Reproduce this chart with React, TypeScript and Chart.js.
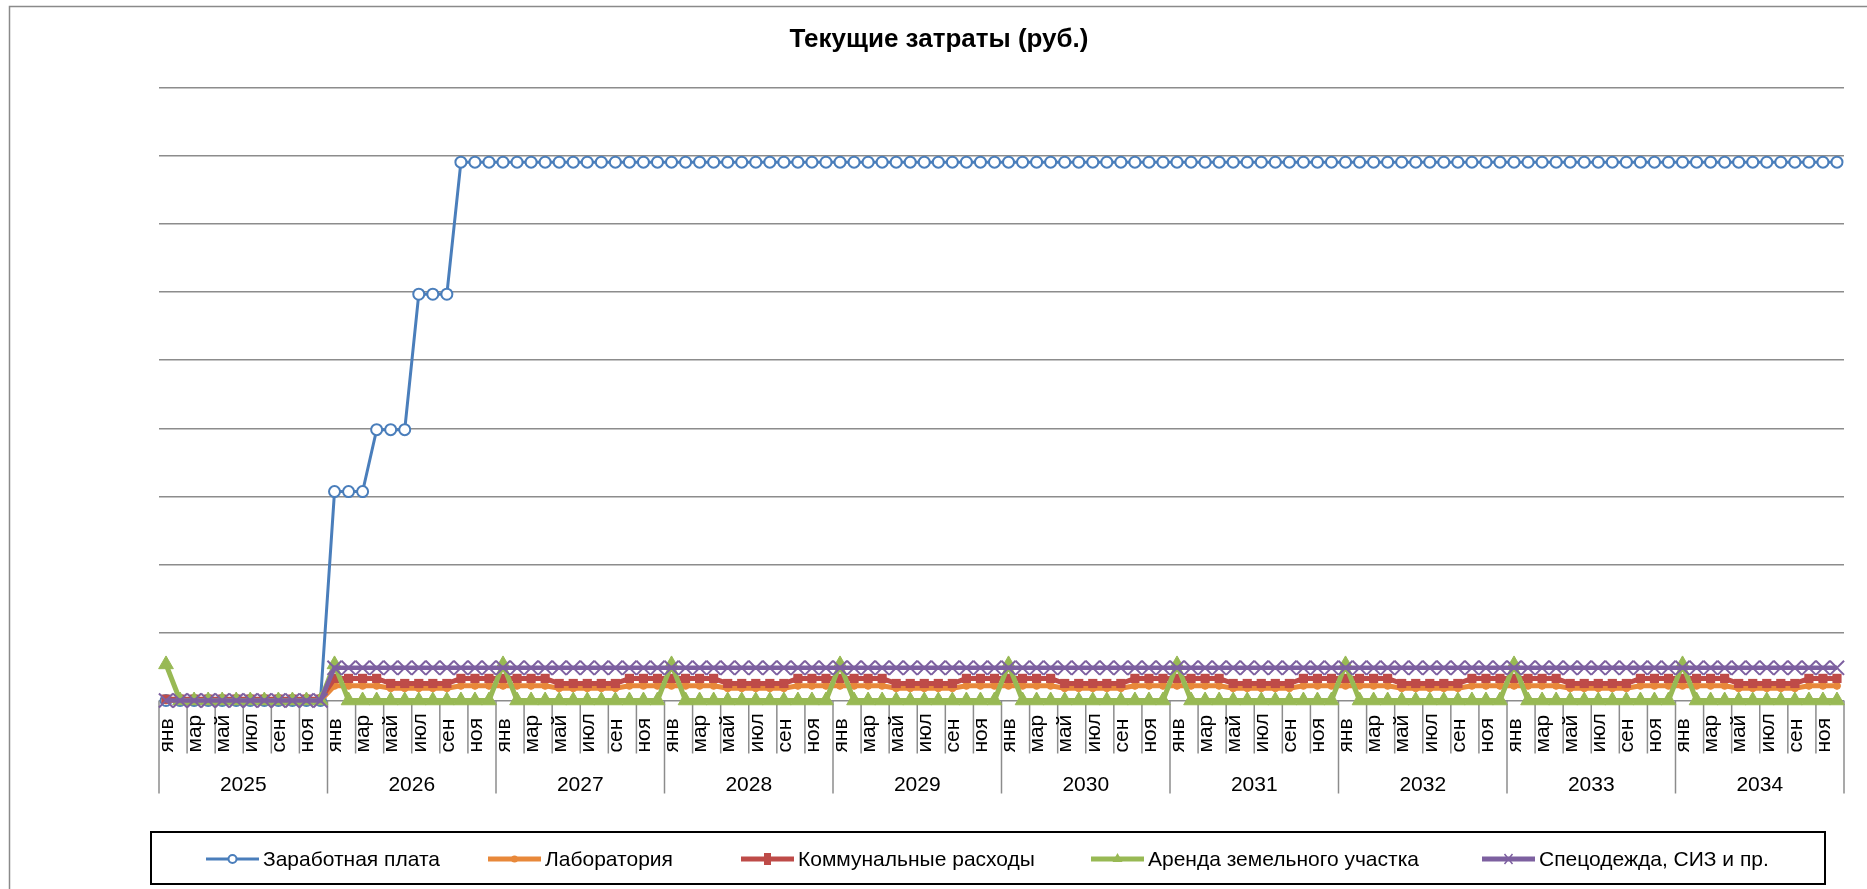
import React, { useEffect, useRef } from 'react';
import { Chart, registerables } from 'chart.js';

Chart.register(...registerables);

const chartTitle = 'Текущие затраты (руб.)';
const monthNames = ['янв', 'фев', 'мар', 'апр', 'май', 'июн', 'июл', 'авг', 'сен', 'окт', 'ноя', 'дек'];
const years = ['2025', '2026', '2027', '2028', '2029', '2030', '2031', '2032', '2033', '2034'];
const seriesNames = ['Заработная плата', 'Лаборатория', 'Коммунальные расходы', 'Аренда земельного участка', 'Спецодежда, СИЗ и пр.'];

const salary = [
  0, 0, 0, 0, 0, 0, 0, 0, 0, 0, 0, 0,
  307000, 307000, 307000, 398000, 398000, 398000, 597000, 597000, 597000, 791000, 791000, 791000,
  791000, 791000, 791000, 791000, 791000, 791000, 791000, 791000, 791000, 791000, 791000, 791000,
  791000, 791000, 791000, 791000, 791000, 791000, 791000, 791000, 791000, 791000, 791000, 791000,
  791000, 791000, 791000, 791000, 791000, 791000, 791000, 791000, 791000, 791000, 791000, 791000,
  791000, 791000, 791000, 791000, 791000, 791000, 791000, 791000, 791000, 791000, 791000, 791000,
  791000, 791000, 791000, 791000, 791000, 791000, 791000, 791000, 791000, 791000, 791000, 791000,
  791000, 791000, 791000, 791000, 791000, 791000, 791000, 791000, 791000, 791000, 791000, 791000,
  791000, 791000, 791000, 791000, 791000, 791000, 791000, 791000, 791000, 791000, 791000, 791000,
  791000, 791000, 791000, 791000, 791000, 791000, 791000, 791000, 791000, 791000, 791000, 791000,
];

const laboratory = [
  0, 0, 0, 0, 0, 0, 0, 0, 0, 0, 0, 0,
  21500, 21500, 21500, 21500, 18000, 18000, 18000, 18000, 18000, 21500, 21500, 21500,
  21500, 21500, 21500, 21500, 18000, 18000, 18000, 18000, 18000, 21500, 21500, 21500,
  21500, 21500, 21500, 21500, 18000, 18000, 18000, 18000, 18000, 21500, 21500, 21500,
  21500, 21500, 21500, 21500, 18000, 18000, 18000, 18000, 18000, 21500, 21500, 21500,
  21500, 21500, 21500, 21500, 18000, 18000, 18000, 18000, 18000, 21500, 21500, 21500,
  21500, 21500, 21500, 21500, 18000, 18000, 18000, 18000, 18000, 21500, 21500, 21500,
  21500, 21500, 21500, 21500, 18000, 18000, 18000, 18000, 18000, 21500, 21500, 21500,
  21500, 21500, 21500, 21500, 18000, 18000, 18000, 18000, 18000, 21500, 21500, 21500,
  21500, 21500, 21500, 21500, 18000, 18000, 18000, 18000, 18000, 21500, 21500, 21500,
];

const utilities = [
  2000, 2000, 2000, 2000, 2000, 2000, 2000, 2000, 2000, 2000, 2000, 2000,
  32500, 32500, 32500, 32500, 25000, 25000, 25000, 25000, 25000, 32500, 32500, 32500,
  32500, 32500, 32500, 32500, 25000, 25000, 25000, 25000, 25000, 32500, 32500, 32500,
  32500, 32500, 32500, 32500, 25000, 25000, 25000, 25000, 25000, 32500, 32500, 32500,
  32500, 32500, 32500, 32500, 25000, 25000, 25000, 25000, 25000, 32500, 32500, 32500,
  32500, 32500, 32500, 32500, 25000, 25000, 25000, 25000, 25000, 32500, 32500, 32500,
  32500, 32500, 32500, 32500, 25000, 25000, 25000, 25000, 25000, 32500, 32500, 32500,
  32500, 32500, 32500, 32500, 25000, 25000, 25000, 25000, 25000, 32500, 32500, 32500,
  32500, 32500, 32500, 32500, 25000, 25000, 25000, 25000, 25000, 32500, 32500, 32500,
  32500, 32500, 32500, 32500, 25000, 25000, 25000, 25000, 25000, 32500, 32500, 32500,
];

const landRent = [
  53000, 0, 0, 0, 0, 0, 0, 0, 0, 0, 0, 0,
  53000, 0, 0, 0, 0, 0, 0, 0, 0, 0, 0, 0,
  53000, 0, 0, 0, 0, 0, 0, 0, 0, 0, 0, 0,
  53000, 0, 0, 0, 0, 0, 0, 0, 0, 0, 0, 0,
  53000, 0, 0, 0, 0, 0, 0, 0, 0, 0, 0, 0,
  53000, 0, 0, 0, 0, 0, 0, 0, 0, 0, 0, 0,
  53000, 0, 0, 0, 0, 0, 0, 0, 0, 0, 0, 0,
  53000, 0, 0, 0, 0, 0, 0, 0, 0, 0, 0, 0,
  53000, 0, 0, 0, 0, 0, 0, 0, 0, 0, 0, 0,
  53000, 0, 0, 0, 0, 0, 0, 0, 0, 0, 0, 0,
];

const workwear = [
  0, 0, 0, 0, 0, 0, 0, 0, 0, 0, 0, 0,
  48000, 48000, 48000, 48000, 48000, 48000, 48000, 48000, 48000, 48000, 48000, 48000,
  48000, 48000, 48000, 48000, 48000, 48000, 48000, 48000, 48000, 48000, 48000, 48000,
  48000, 48000, 48000, 48000, 48000, 48000, 48000, 48000, 48000, 48000, 48000, 48000,
  48000, 48000, 48000, 48000, 48000, 48000, 48000, 48000, 48000, 48000, 48000, 48000,
  48000, 48000, 48000, 48000, 48000, 48000, 48000, 48000, 48000, 48000, 48000, 48000,
  48000, 48000, 48000, 48000, 48000, 48000, 48000, 48000, 48000, 48000, 48000, 48000,
  48000, 48000, 48000, 48000, 48000, 48000, 48000, 48000, 48000, 48000, 48000, 48000,
  48000, 48000, 48000, 48000, 48000, 48000, 48000, 48000, 48000, 48000, 48000, 48000,
  48000, 48000, 48000, 48000, 48000, 48000, 48000, 48000, 48000, 48000, 48000, 48000,
];

const categories = years.flatMap((y) => monthNames.map((m) => `${m} ${y}`));

const COLORS = ['#4A7EBB', '#E8883A', '#BE4B48', '#98B954', '#7D60A0'];
const FONT = '"Liberation Sans", Arial, sans-serif';
const GRID = '#8c8c8c';
const LEGEND_STARTS = [206, 488, 741, 1091, 1482];

function drawMarker(ctx: CanvasRenderingContext2D, kind: number, x: number, y: number) {
  const c = COLORS[kind];
  ctx.save();
  ctx.lineWidth = 2;
  ctx.strokeStyle = c;
  ctx.fillStyle = c;
  if (kind === 0) {
    ctx.fillStyle = '#fff';
    ctx.beginPath();
    ctx.arc(x, y, 4, 0, Math.PI * 2);
    ctx.fill();
    ctx.stroke();
  } else if (kind === 1) {
    ctx.beginPath();
    ctx.arc(x, y, 3.5, 0, Math.PI * 2);
    ctx.fill();
  } else if (kind === 2) {
    ctx.fillRect(x - 3.5, y - 6, 7, 12);
  } else if (kind === 3) {
    ctx.beginPath();
    ctx.moveTo(x, y - 6);
    ctx.lineTo(x + 5, y + 3);
    ctx.lineTo(x - 5, y + 3);
    ctx.closePath();
    ctx.fill();
  } else {
    ctx.lineWidth = 1.5;
    ctx.beginPath();
    ctx.moveTo(x - 4, y - 5);
    ctx.lineTo(x + 4, y + 5);
    ctx.moveTo(x + 4, y - 5);
    ctx.lineTo(x - 4, y + 5);
    ctx.stroke();
  }
  ctx.restore();
}

const decorPlugin = {
  id: 'decor',
  beforeDraw(chart: any) {
    const ctx = chart.ctx as CanvasRenderingContext2D;
    ctx.save();
    ctx.fillStyle = '#fff';
    ctx.fillRect(0, 0, chart.width, chart.height);
    ctx.strokeStyle = '#8a8a8a';
    ctx.lineWidth = 1.5;
    ctx.strokeRect(9.5, 6.5, 1860, 900);
    ctx.restore();
  },
  beforeDatasetsDraw(chart: any) {
    const ctx = chart.ctx as CanvasRenderingContext2D;
    const xs = chart.scales.x;
    const area = chart.chartArea;
    const step = xs.getPixelForValue(1) - xs.getPixelForValue(0);
    ctx.save();
    ctx.strokeStyle = GRID;
    ctx.lineWidth = 1.5;
    for (let i = 0; i <= categories.length; i += 2) {
      const x = xs.getPixelForValue(0) - step / 2 + i * step;
      const len = i % 12 === 0 ? 93 : 53;
      ctx.beginPath();
      ctx.moveTo(x, area.bottom);
      ctx.lineTo(x, area.bottom + len);
      ctx.stroke();
    }
    ctx.restore();
  },
  afterDraw(chart: any) {
    const ctx = chart.ctx as CanvasRenderingContext2D;
    const xs = chart.scales.x;
    const area = chart.chartArea;
    ctx.save();
    ctx.fillStyle = '#000';
    ctx.font = `21px ${FONT}`;
    ctx.textAlign = 'left';
    ctx.textBaseline = 'middle';
    for (let i = 0; i < categories.length; i += 2) {
      const x = xs.getPixelForValue(i);
      ctx.save();
      ctx.translate(x + 1, area.bottom + 52);
      ctx.rotate(-Math.PI / 2);
      ctx.fillText(monthNames[i % 12], 0, 0);
      ctx.restore();
    }
    ctx.textAlign = 'center';
    years.forEach((y, k) => {
      const x = (xs.getPixelForValue(k * 12) + xs.getPixelForValue(k * 12 + 11)) / 2;
      ctx.fillText(y, x, area.bottom + 85);
    });
    ctx.font = `bold 26px ${FONT}`;
    ctx.fillText(chartTitle, 939, 40);
    ctx.strokeStyle = '#000';
    ctx.lineWidth = 2;
    ctx.strokeRect(151, 832, 1674, 52);
    ctx.font = `21px ${FONT}`;
    ctx.textAlign = 'left';
    const lineLen = 53;
    const ly = 859;
    seriesNames.forEach((n, k) => {
      const x = LEGEND_STARTS[k];
      ctx.save();
      ctx.strokeStyle = COLORS[k];
      ctx.lineWidth = k === 0 ? 3 : 5;
      ctx.beginPath();
      ctx.moveTo(x, ly);
      ctx.lineTo(x + lineLen, ly);
      ctx.stroke();
      ctx.restore();
      drawMarker(ctx, k, x + lineLen / 2, ly);
      ctx.fillStyle = '#000';
      ctx.fillText(n, x + lineLen + 4, ly + 1);
    });
    ctx.restore();
  },
};

export default function App() {
  const ref = useRef<HTMLCanvasElement | null>(null);
  useEffect(() => {
    if (!ref.current) return;
    const chart = new Chart(ref.current, {
      type: 'line',
      data: {
        labels: categories,
        datasets: [
          {
            label: seriesNames[0], data: salary, borderColor: COLORS[0], borderWidth: 3,
            pointStyle: 'circle', pointRadius: 5.5, pointBorderWidth: 2,
            pointBackgroundColor: '#fff', pointBorderColor: COLORS[0], order: 4, clip: false,
          },
          {
            label: seriesNames[1], data: laboratory, borderColor: COLORS[1], borderWidth: 5,
            pointStyle: 'circle', pointRadius: 3.5, pointBorderWidth: 1,
            pointBackgroundColor: COLORS[1], pointBorderColor: COLORS[1], order: 3, clip: false,
          },
          {
            label: seriesNames[2], data: utilities, borderColor: COLORS[2], borderWidth: 5,
            pointStyle: 'rect', pointRadius: 6.5, pointBorderWidth: 0,
            pointBackgroundColor: COLORS[2], pointBorderColor: COLORS[2], order: 2, clip: false,
          },
          {
            label: seriesNames[3], data: landRent, borderColor: COLORS[3], borderWidth: 5,
            pointStyle: 'triangle', pointRadius: 8.5, pointBorderWidth: 1,
            pointBackgroundColor: COLORS[3], pointBorderColor: COLORS[3], order: 1, clip: false,
          },
          {
            label: seriesNames[4], data: workwear, borderColor: COLORS[4], borderWidth: 4.5,
            pointStyle: 'crossRot', pointRadius: 10, pointBorderWidth: 2,
            pointBackgroundColor: COLORS[4], pointBorderColor: COLORS[4], order: 0, clip: false,
          },
        ],
      },
      options: {
        responsive: false,
        animation: false,
        devicePixelRatio: 1,
        layout: { padding: { left: 159, right: 23, top: 88, bottom: 188.5 } },
        plugins: { legend: { display: false }, title: { display: false }, tooltip: { enabled: false } },
        elements: { line: { tension: 0 } },
        scales: {
          x: { type: 'category', offset: true, display: false, grid: { display: false } },
          y: {
            min: 0, max: 900000,
            ticks: { stepSize: 100000, display: false },
            grid: { color: GRID, lineWidth: 1.5, drawTicks: false },
            border: { display: false },
          },
        },
      },
      plugins: [decorPlugin],
    });
    return () => chart.destroy();
  }, []);
  return (
    <div style={{ position: 'absolute', left: 0, top: 0, width: 1867, height: 889 }}>
      <canvas ref={ref} width={1867} height={889} style={{ width: 1867, height: 889, display: 'block' }} />
    </div>
  );
}
